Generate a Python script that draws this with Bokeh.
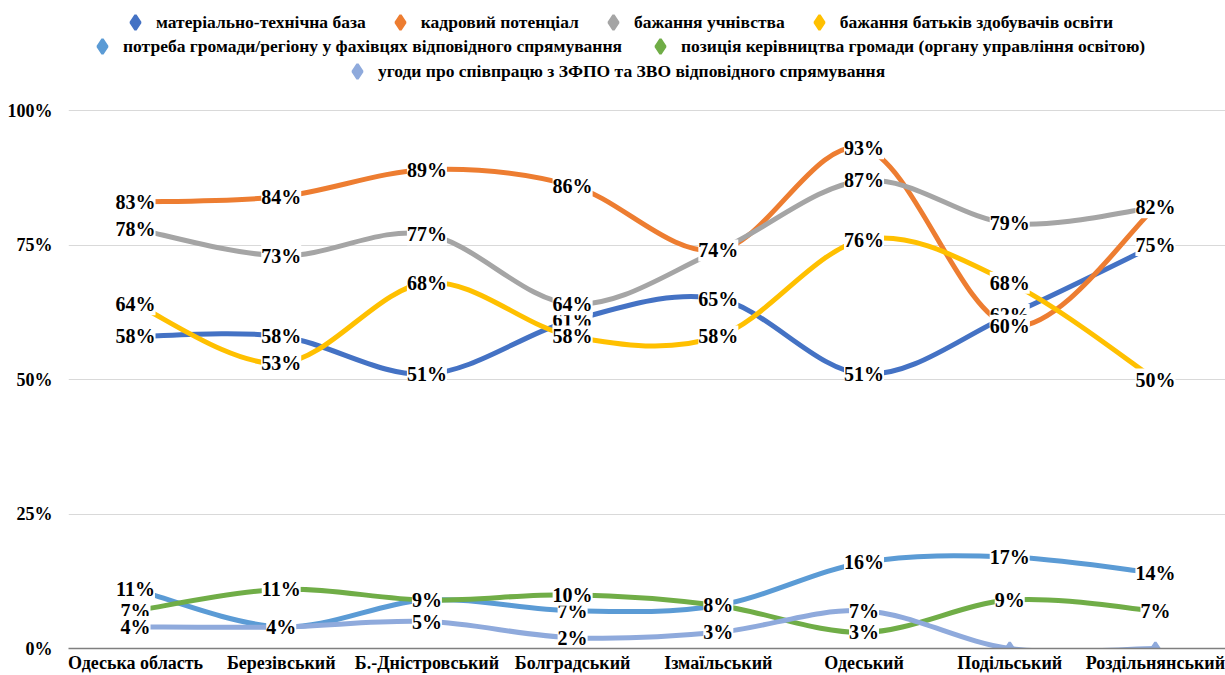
import numpy as np
from bokeh.plotting import figure
from bokeh.models import Range1d, FixedTicker, Legend, LegendItem, ColumnDataSource
from bokeh.embed import file_html
from bokeh.resources import INLINE
from bokeh.core.properties import value

categories = ["Одеська область", "Березівський", "Б.-Дністровський", "Болградський",
              "Ізмаїльський", "Одеський", "Подільський", "Роздільнянський"]

mat_base = [58, 58, 51, 61, 65, 51, 62, 75]
kadr_potential = [83, 84, 89, 86, 74, 93, 60, 82]
bazh_uchniv = [78, 73, 77, 64, 74, 87, 79, 82]
bazh_batkiv = [64, 53, 68, 58, 58, 76, 68, 50]
potreba_gromady = [11, 4, 9, 7, 8, 16, 17, 14]
pozytsia_kerivn = [7, 11, 9, 10, 8, 3, 9, 7]
ugody = [4, 4, 5, 2, 3, 7, 0, 0]

series_names = [
    "матеріально-технічна база",
    "кадровий потенціал",
    "бажання учнівства",
    "бажання батьків здобувачів освіти",
    "потреба громади/регіону у фахівцях відповідного спрямування",
    "позиція керівництва громади (органу управління освітою)",
    "угоди про співпрацю з ЗФПО та ЗВО відповідного спрямування",
]
series_values = [mat_base, kadr_potential, bazh_uchniv, bazh_batkiv,
                 potreba_gromady, pozytsia_kerivn, ugody]
colors = ["#4472C4", "#ED7D31", "#A5A5A5", "#FFC000", "#5B9BD5", "#70AD47", "#8FAADC"]

y_ticks = [0, 25, 50, 75, 100]

FONT = "Liberation Serif, Times New Roman, serif"

p = figure(width=1225, height=675, output_backend="svg", toolbar_location=None,
           x_range=Range1d(-0.46, 7.481), y_range=Range1d(0, 120.45),
           min_border_left=68, min_border_right=0, min_border_top=0, min_border_bottom=27)
p.outline_line_color = None
p.background_fill_color = "white"

# axes
p.xaxis.ticker = FixedTicker(ticks=list(range(len(categories))))
p.xaxis.major_label_overrides = {i: c for i, c in enumerate(categories)}
p.xaxis.major_tick_line_color = None
p.xaxis.major_tick_out = 0
p.xaxis.major_tick_in = 0
p.xaxis.minor_tick_line_color = None
p.xaxis.axis_line_color = "#7F7F7F"
p.xaxis.axis_line_width = 1.5
p.xaxis.axis_label_standoff = 0
p.xaxis.major_label_text_font = FONT
p.xaxis.major_label_text_font_style = "bold"
p.xaxis.major_label_text_font_size = "18px"
p.xaxis.major_label_text_color = "#000000"
p.xaxis.major_label_standoff = 4

p.yaxis.ticker = FixedTicker(ticks=y_ticks)
p.yaxis.major_label_overrides = {t: f"{t}%" for t in y_ticks}
p.yaxis.major_tick_line_color = None
p.yaxis.major_tick_out = 0
p.yaxis.major_tick_in = 0
p.yaxis.minor_tick_line_color = None
p.yaxis.axis_line_color = None
p.yaxis.major_label_text_font = FONT
p.yaxis.major_label_text_font_style = "bold"
p.yaxis.major_label_text_font_size = "18px"
p.yaxis.major_label_text_color = "#000000"
p.yaxis.major_label_standoff = 16

p.xgrid.grid_line_color = None
p.ygrid.grid_line_color = "#D9D9D9"
p.ygrid.grid_line_width = 1.2

xs = np.arange(len(categories), dtype=float)

point_renderers = []
for vals, col in zip(series_values, colors):
    y = np.array(vals, dtype=float)
    n = len(y)
    ext_x = np.concatenate([[xs[0]], xs, [xs[-1]]])
    ext_y = np.concatenate([[y[0]], y, [y[-1]]])
    x0, y0, x1, y1, cx0, cy0, cx1, cy1 = [], [], [], [], [], [], [], []
    for i in range(n - 1):
        pm1x, pm1y = ext_x[i], ext_y[i]
        p0x, p0y = ext_x[i + 1], ext_y[i + 1]
        p1x, p1y = ext_x[i + 2], ext_y[i + 2]
        p2x, p2y = ext_x[i + 3], ext_y[i + 3]
        x0.append(p0x); y0.append(p0y); x1.append(p1x); y1.append(p1y)
        cx0.append(p0x + (p1x - pm1x) / 6); cy0.append(p0y + (p1y - pm1y) / 6)
        cx1.append(p1x - (p2x - p0x) / 6); cy1.append(p1y - (p2y - p0y) / 6)
    p.bezier(x0=x0, y0=y0, x1=x1, y1=y1, cx0=cx0, cy0=cy0, cx1=cx1, cy1=cy1,
             line_color=col, line_width=5, line_cap="round")
    r = p.scatter(x=xs, y=y, marker="diamond", size=12, fill_color=col, line_color=col,
                  line_width=2.5)
    point_renderers.append(r)

# data labels (skip zeros and exact duplicates already labelled at the same point)
seen = set()
for vals in series_values:
    lx, ly, lt = [], [], []
    for i, v in enumerate(vals):
        if v == 0 or (i, v) in seen:
            continue
        seen.add((i, v))
        lx.append(xs[i]); ly.append(v); lt.append(f"{v}%")
    src = ColumnDataSource(dict(x=lx, y=ly, text=lt))
    p.text(x="x", y="y", text="text", source=src, text_align="center", text_baseline="middle",
           text_font=value(FONT), text_font_style="bold", text_font_size="20px",
           text_color="#000000", background_fill_color="white", padding=0)

rows = [[0, 1, 2, 3], [4, 5], [6]]
row_locs = [(49, 608), (16, 584), (271, 559)]
row_spacing = [16, 20, 20]
for row, loc, spc in zip(rows, row_locs, row_spacing):
    items = [LegendItem(label=series_names[k], renderers=[point_renderers[k]]) for k in row]
    leg = Legend(items=items, location=loc, orientation="horizontal",
                 glyph_width=36, glyph_height=36, label_standoff=3, spacing=spc,
                 padding=0, margin=0, border_line_color=None, background_fill_alpha=0,
                 label_text_font=FONT, label_text_font_style="bold",
                 label_text_font_size="17.5px", label_text_color="#000000")
    p.add_layout(leg, "center")

open("out.html", "w").write(file_html(p, INLINE))
